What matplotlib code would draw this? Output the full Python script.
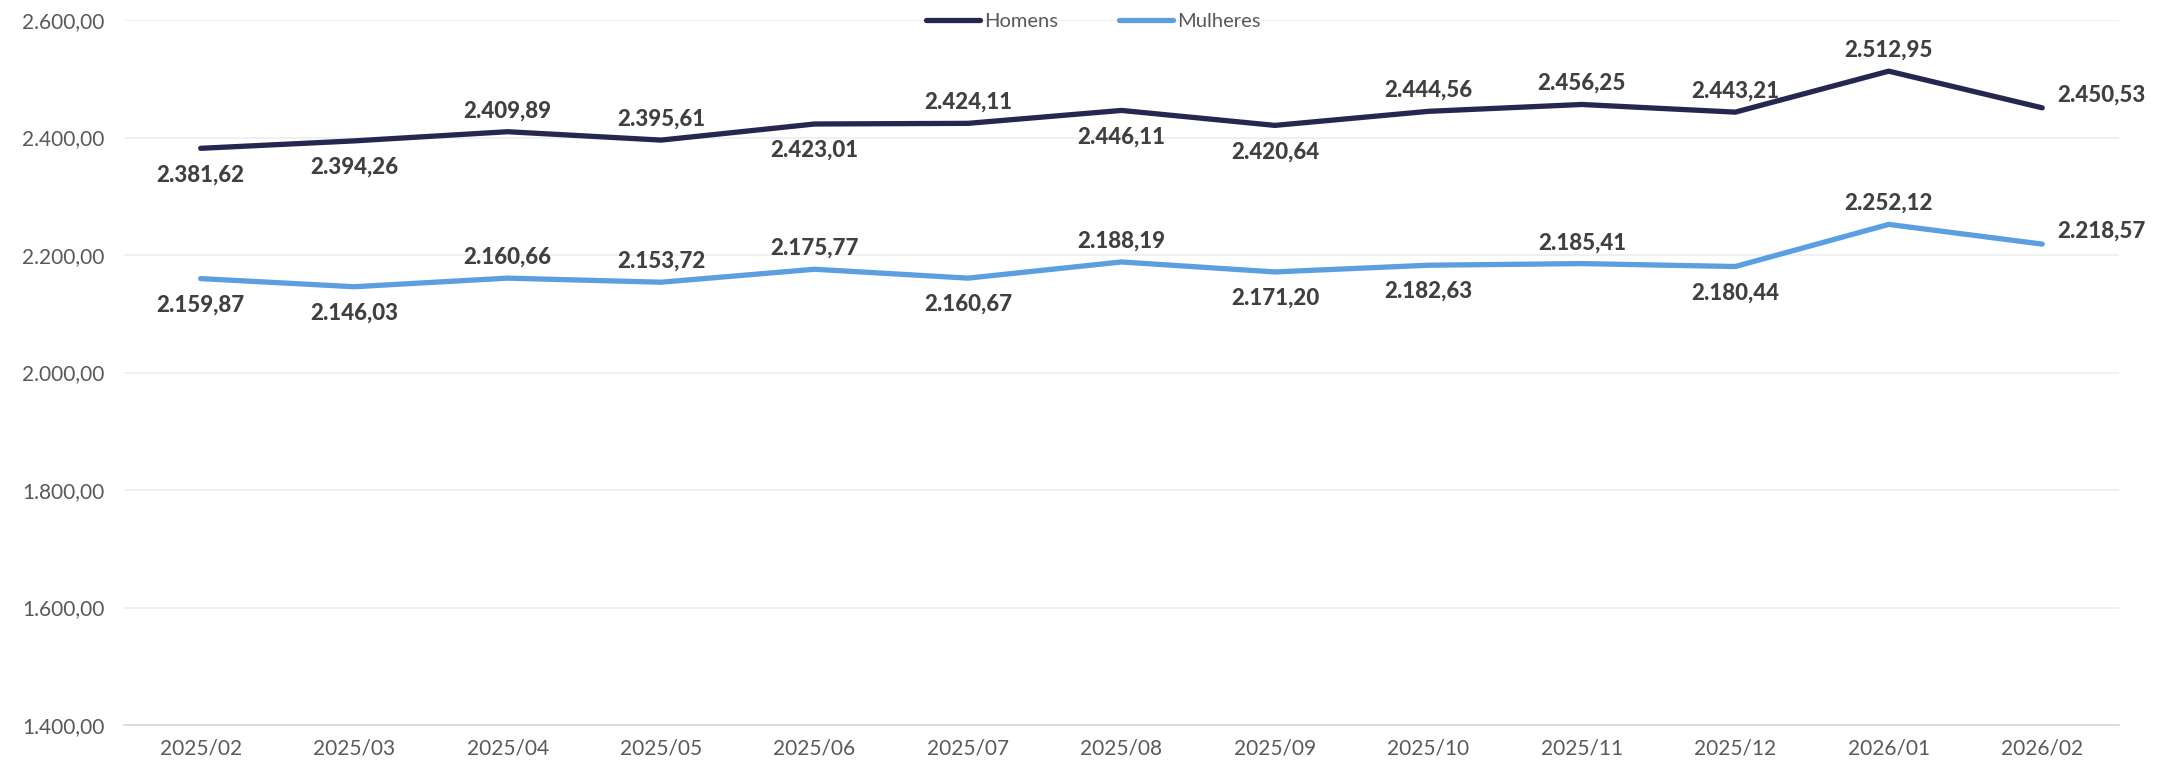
import matplotlib
matplotlib.use("Agg")
import matplotlib.pyplot as plt
from matplotlib.ticker import FuncFormatter

plt.rcParams['font.family'] = ['Lato', 'DejaVu Sans']

categories = ["2025/02", "2025/03", "2025/04", "2025/05", "2025/06", "2025/07", "2025/08",
              "2025/09", "2025/10", "2025/11", "2025/12", "2026/01", "2026/02"]
homens = [2381.62, 2394.26, 2409.89, 2395.61, 2423.01, 2424.11, 2446.11,
          2420.64, 2444.56, 2456.25, 2443.21, 2512.95, 2450.53]
mulheres = [2159.87, 2146.03, 2160.66, 2153.72, 2175.77, 2160.67, 2188.19,
            2171.20, 2182.63, 2185.41, 2180.44, 2252.12, 2218.57]
homens_pos = ["b", "b", "a", "a", "b", "a", "b", "b", "a", "a", "a", "a", "r"]
mulheres_pos = ["b", "b", "a", "a", "a", "b", "a", "b", "b", "a", "b", "a", "r"]
yticks = [1400, 1600, 1800, 2000, 2200, 2400, 2600]

C_H = "#25274f"
C_M = "#5b9fe0"
TXT = "#404040"


def br(v, dec=2):
    s = f"{v:,.{dec}f}"
    return s.replace(",", "X").replace(".", ",").replace("X", ".")


fig = plt.figure(figsize=(21.82, 7.64), dpi=100)
ax = fig.add_axes([0.0568, 0.051, 0.9143, 0.9228])
x = list(range(len(categories)))
ax.plot(x, homens, color=C_H, lw=3.8, solid_capstyle="round", solid_joinstyle="miter", label="Homens", zorder=3)
ax.plot(x, mulheres, color=C_M, lw=3.8, solid_capstyle="round", solid_joinstyle="miter", label="Mulheres", zorder=3)

ax.set_xlim(-0.5, len(categories) - 0.5)
ax.set_ylim(1400, 2600)
ax.set_yticks(yticks)
ax.yaxis.set_major_formatter(FuncFormatter(lambda v, p: br(v)))
ax.set_xticks(x)
ax.set_xticklabels(categories)
ax.tick_params(axis="both", length=0, labelsize=15, colors="#595959")
ax.tick_params(axis="y", pad=14)
ax.tick_params(axis="x", pad=10)
ax.grid(axis="y", color="#efefef", lw=1.3, zorder=0)
for s in ["top", "right", "left"]:
    ax.spines[s].set_visible(False)
ax.spines["bottom"].set_color("#d9d9d9")
ax.spines["bottom"].set_linewidth(1.3)

offsets = {"a": (0, 15), "b": (0, -19), "r": (11, 9)}
for series, pos in ((homens, homens_pos), (mulheres, mulheres_pos)):
    for i, (v, p) in enumerate(zip(series, pos)):
        dx, dy = offsets[p]
        ha = "left" if p == "r" else "center"
        ax.annotate(br(v), (i, v), xytext=(dx, dy), textcoords="offset points",
                    ha=ha, va="center", fontsize=16, fontweight="black", color=TXT, zorder=4)

fig.legend(loc="center", bbox_to_anchor=(0.501, 0.972), ncol=2, frameon=False,
           fontsize=14.5, handlelength=2.7, handletextpad=0.2, columnspacing=3.0,
           labelcolor="#595959")

fig.savefig("out.png", dpi=100, facecolor="white")
